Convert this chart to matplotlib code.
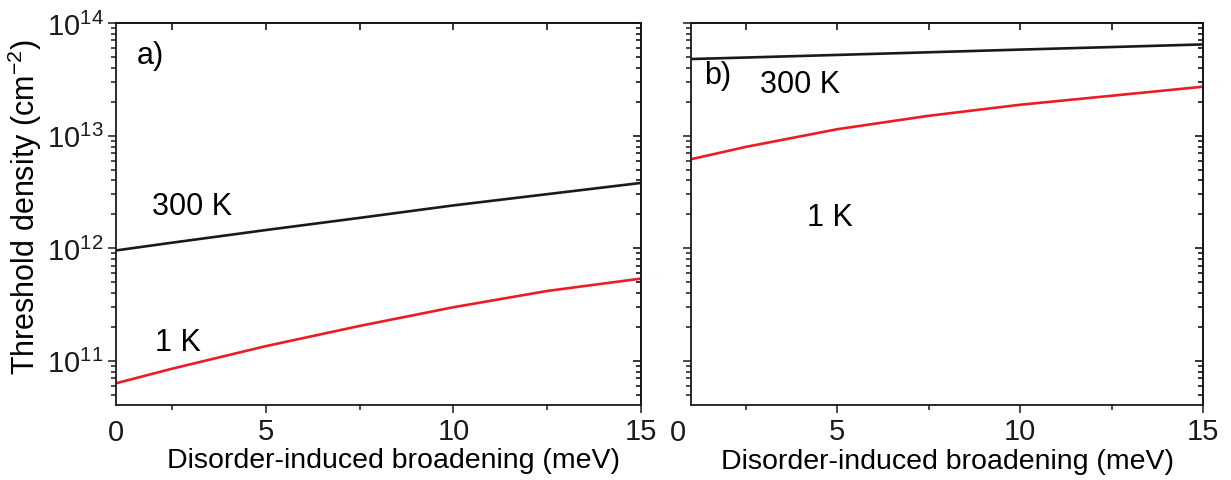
import matplotlib
matplotlib.use("Agg")
import matplotlib.pyplot as plt
import numpy as np
from matplotlib.ticker import LogLocator, NullFormatter

plt.rcParams['font.family'] = ['Liberation Sans', 'DejaVu Sans']
plt.rcParams['mathtext.fontset'] = 'custom'
plt.rcParams['mathtext.rm'] = 'Liberation Sans'
plt.rcParams['mathtext.it'] = 'Liberation Sans:italic'

broadening = [1, 2.5, 5, 7.5, 10, 12.5, 15]

# panel a)
a_300K = [9.55e11, 1.12e12, 1.45e12, 1.86e12, 2.40e12, 3.02e12, 3.80e12]
a_1K = [6.31e10, 8.51e10, 1.35e11, 2.04e11, 2.99e11, 4.17e11, 5.37e11]

# panel b)
b_300K = [4.79e13, 4.94e13, 5.21e13, 5.50e13, 5.81e13, 6.12e13, 6.46e13]
b_1K = [6.17e12, 7.94e12, 1.14e13, 1.50e13, 1.88e13, 2.26e13, 2.72e13]

BLACK = '#1a1a1a'
RED = '#ed1c24'
FS = 22

fig = plt.figure(figsize=(12.31, 4.81), dpi=100)
ax1 = fig.add_axes([0.0942, 0.156, 0.4265, 0.794])
ax2 = fig.add_axes([0.5613, 0.156, 0.4159, 0.794])


def style(ax, ylabels=True):
    ax.set_yscale('log')
    ax.set_xlim(1, 15)
    ax.set_ylim(4.05e10, 1e14)
    ax.set_xticks([5, 10, 15])
    ax.set_xticks([2.5, 7.5, 12.5], minor=True)
    ax.yaxis.set_major_locator(LogLocator(base=10, numticks=10))
    ax.yaxis.set_minor_locator(LogLocator(base=10, subs=np.arange(2, 10), numticks=20))
    ax.yaxis.set_minor_formatter(NullFormatter())
    ax.tick_params(which='both', direction='out', width=1.1, labelsize=21,
                   colors='#1a1a1a', labelleft=ylabels)
    ax.tick_params(which='major', length=6)
    ax.tick_params(which='minor', length=3.5)
    ax.tick_params(axis='x', pad=2.5)
    ax.tick_params(axis='y', pad=3)
    for s in ax.spines.values():
        s.set_linewidth(1.3)
        s.set_color('#1a1a1a')

    # ticks pointing inward on top and right
    top = ax.secondary_xaxis('top')
    top.set_xticks([2.5, 5, 7.5, 10, 12.5, 15])
    top.tick_params(direction='in', length=5, width=1.1, labeltop=False)
    top.spines['top'].set_linewidth(1.3)
    right = ax.secondary_yaxis('right')
    right.yaxis.set_major_locator(LogLocator(base=10, numticks=10))
    right.yaxis.set_minor_locator(LogLocator(base=10, subs=np.arange(2, 10), numticks=20))
    right.yaxis.set_minor_formatter(NullFormatter())
    right.tick_params(which='both', direction='in', width=1.1, labelright=False)
    right.tick_params(which='major', length=6)
    right.tick_params(which='minor', length=3.5)
    right.spines['right'].set_linewidth(1.3)

    ax.set_xlabel('Disorder-induced broadening (meV)', fontsize=20.5)
    ax.text(0.0 if ylabels else -0.025, -0.07, '0', transform=ax.transAxes,
            fontsize=21, ha='center', va='center', color='#1a1a1a')


ax1.plot(broadening, a_300K, color=BLACK, lw=1.9)
ax1.plot(broadening, a_1K, color=RED, lw=1.9)
style(ax1)
ax1.xaxis.set_label_coords(0.528, -0.11)
ax1.set_ylabel('Threshold density (cm$^{-2}$)', fontsize=FS)
ax1.yaxis.set_label_coords(-0.138, 0.522)
ax1.text(0.065, 0.916, 'a)', transform=ax1.transAxes, fontsize=FS, va='center', ha='center')
ax1.text(0.145, 0.522, '300 K', transform=ax1.transAxes, fontsize=FS, va='center', ha='center')
ax1.text(0.118, 0.165, '1 K', transform=ax1.transAxes, fontsize=FS, va='center', ha='center')

ax2.plot(broadening, b_300K, color=BLACK, lw=1.9)
ax2.plot(broadening, b_1K, color=RED, lw=1.9)
style(ax2, ylabels=False)
ax2.xaxis.set_label_coords(0.502, -0.112)
ax2.text(0.053, 0.864, 'b)', transform=ax2.transAxes, fontsize=FS, va='center', ha='center')
ax2.text(0.213, 0.84, '300 K', transform=ax2.transAxes, fontsize=FS, va='center', ha='center')
ax2.text(0.271, 0.491, '1 K', transform=ax2.transAxes, fontsize=FS, va='center', ha='center')

fig.savefig('out.png', dpi=100)
